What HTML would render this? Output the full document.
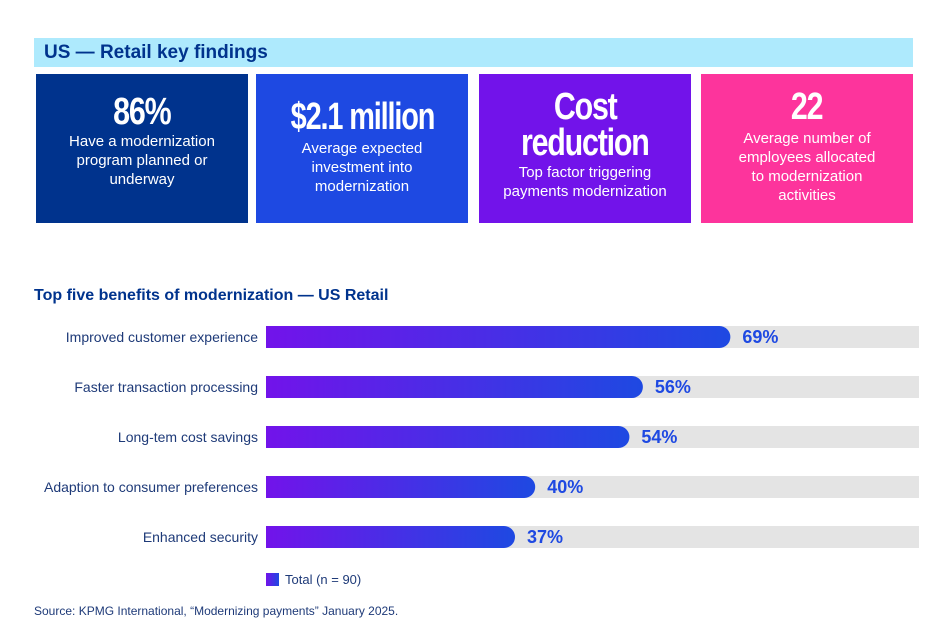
<!DOCTYPE html>
<html><head><meta charset="utf-8"><style>
body{margin:0;width:940px;height:636px;background:#fff;font-family:"Liberation Sans",sans-serif;position:relative;overflow:hidden}
.abs{position:absolute}
.hdr{left:34px;top:38px;width:879px;height:29px;background:#aeeafd;color:#00338d;font-weight:bold;font-size:19px;line-height:29px;box-sizing:border-box;padding-left:10px}
.card{top:74px;height:149px;width:212px;color:#fff;text-align:center}
.big{font-family:"Liberation Sans Narrow","Liberation Sans",sans-serif;font-weight:bold;font-size:38px;line-height:36px;letter-spacing:-1.5px;display:inline-block;transform:scaleX(0.8)}
.sub{font-size:15px;line-height:19px}
.lbl{font-size:14px;color:#1e3a78;text-align:right;width:240px;left:18px}
.val{font-family:"Liberation Sans Narrow","Liberation Sans",sans-serif;font-weight:bold;font-size:18px;color:#1e49e2}
</style></head><body>
<div class="abs hdr">US — Retail key findings</div>
<div class="abs card" style="left:36px;background:#00338d"><div style="margin-top:20px;height:36px"><span class="big">86%</span></div><div class="sub" style="margin-top:2px">Have a modernization<br>program planned or<br>underway</div></div>
<div class="abs card" style="left:256px;background:#1e49e2"><div style="margin-top:25px;height:36px"><span class="big" style="transform:scaleX(0.76)">$2.1 million</span></div><div class="sub" style="margin-top:4px">Average expected<br>investment into<br>modernization</div></div>
<div class="abs card" style="left:479px;background:#7213ea"><div style="margin-top:15px;height:36px"><span class="big">Cost</span></div><div style="height:36px"><span class="big">reduction</span></div><div class="sub" style="margin-top:2px">Top factor triggering<br>payments modernization</div></div>
<div class="abs card" style="left:701px;background:#fd349c"><div style="margin-top:15px;height:36px"><span class="big">22</span></div><div class="sub" style="margin-top:4px">Average number of<br>employees allocated<br>to modernization<br>activities</div></div>
<div class="abs" style="left:34px;top:287px;font-size:16px;font-weight:bold;color:#00338d">Top five benefits of modernization — US Retail</div>
<svg class="abs" style="left:0;top:0" width="940" height="636" id="chart">
<defs><linearGradient id="g" x1="0" x2="1"><stop offset="0" stop-color="#7213ea"/><stop offset="1" stop-color="#1e49e2"/></linearGradient></defs>
</svg>
<div id="labels"></div>
<div class="abs" style="left:266px;top:573px;width:13px;height:13px;background:linear-gradient(90deg,#7213ea,#1e49e2)"></div>
<div class="abs" style="left:285px;top:572px;font-size:13px;color:#1e3a78">Total (n = 90)</div>
<div class="abs" style="left:34px;top:604px;font-size:12px;color:#1e3a78">Source: KPMG International, “Modernizing payments” January 2025.</div>
<script>
const categories=["Improved customer experience","Faster transaction processing","Long-tem cost savings","Adaption to consumer preferences","Enhanced security"];
const values=[69,56,54,40,37];
const valueLabels=["69%","56%","54%","40%","37%"];
const x0=266,pxPer=6.73,trackEnd=919,barH=22;
function xs(v){return x0+v*pxPer;}
function ys(i){return 326+i*50;}
const svg=document.getElementById('chart'),NS='http://www.w3.org/2000/svg',lab=document.getElementById('labels');
categories.forEach((c,i)=>{
 const t=document.createElementNS(NS,'rect');
 t.setAttribute('x',x0);t.setAttribute('y',ys(i));t.setAttribute('width',trackEnd-x0);t.setAttribute('height',barH);t.setAttribute('fill','#e4e4e4');
 
 
 svg.appendChild(t);
 const w=xs(values[i])-x0,r=barH/2;
 const p=document.createElementNS(NS,'path');
 p.setAttribute('d',`M${x0},${ys(i)}H${x0+w-r}A${r},${r} 0 0 1 ${x0+w-r},${ys(i)+barH}H${x0}Z`);
 p.setAttribute('fill','url(#g)');
 
 
 svg.appendChild(p);
 const l=document.createElement('div');l.className='abs lbl';l.style.top=(ys(i)+3)+'px';l.textContent=c;
 
 
 lab.appendChild(l);
 const v=document.createElement('div');v.className='abs val';v.style.left=(xs(values[i])+12)+'px';v.style.top=(ys(i)+1)+'px';v.textContent=valueLabels[i];
 
 
 lab.appendChild(v);
});
</script>
</body></html>
